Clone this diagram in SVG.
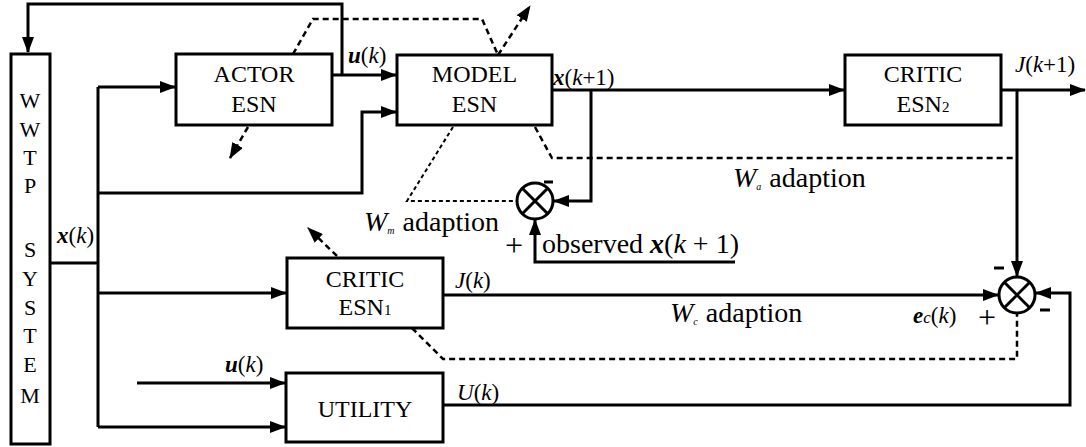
<svg xmlns="http://www.w3.org/2000/svg" width="1086" height="447" viewBox="0 0 1086 447">
<defs>
<marker id="ah" viewBox="0 0 16 12" refX="15" refY="6" markerWidth="16" markerHeight="12" markerUnits="userSpaceOnUse" orient="auto">
<path d="M0,0 L16,6 L0,12 z" fill="#000"/>
</marker>
<style>
.box{fill:#fff;stroke:#000;stroke-width:3}
.ln{fill:none;stroke:#000;stroke-width:3}
.pl{fill:none;stroke:#000;stroke-width:1.6}
.ds{fill:none;stroke:#000;stroke-width:2.5;stroke-dasharray:6 4}
.dt{fill:none;stroke:#000;stroke-width:2;stroke-dasharray:4 3}
text{font-family:'Liberation Serif','Times New Roman','DejaVu Serif','Noto Serif',serif}
.nl{font-size:24px;text-anchor:middle}
.m{font-size:23px}
.big{font-size:28px}
.i{font-style:italic}
.b{font-weight:bold;font-style:italic}
</style>
</defs>
<g id="connectors">
<polyline class="ln" points="342,75 342,4 28,4 28,52" marker-end="url(#ah)"/>
<line class="ln" x1="332" y1="75" x2="396" y2="75" marker-end="url(#ah)"/>
<line class="ln" x1="50" y1="263" x2="98" y2="263"/>
<line class="ln" x1="98" y1="87" x2="98" y2="427"/>
<line class="ln" x1="98" y1="87" x2="175" y2="87" marker-end="url(#ah)"/>
<polyline class="ln" points="98,193 362,193 362,112 396,112" marker-end="url(#ah)"/>
<line class="ln" x1="98" y1="293" x2="286" y2="293" marker-end="url(#ah)"/>
<line class="ln" x1="98" y1="427" x2="285" y2="427" marker-end="url(#ah)"/>
<line class="ln" x1="137" y1="383" x2="285" y2="383" marker-end="url(#ah)"/>
<line class="ln" x1="552" y1="90" x2="844" y2="90" marker-end="url(#ah)"/>
<line class="ln" x1="1001" y1="90" x2="1085" y2="90" marker-end="url(#ah)"/>
<polyline class="ln" points="1017,90 1017,276" marker-end="url(#ah)"/>
<polyline class="ln" points="591,90 591,201 554,201" marker-end="url(#ah)"/>
<polyline class="ln" points="735,262 535,262 535,220" marker-end="url(#ah)"/>
<line class="ln" x1="443" y1="295" x2="998" y2="295" marker-end="url(#ah)"/>
<polyline class="ln" points="443,405 1070,405 1070,293 1036,293" marker-end="url(#ah)"/>
<polyline class="ds" points="293,54 313,19 482,19 498,55"/>
<line class="ds" x1="498" y1="55" x2="530" y2="6" marker-end="url(#ah)"/>
<line class="ds" x1="248" y1="127" x2="230" y2="158" marker-end="url(#ah)"/>
<polyline class="dt" points="453,127 407,201 516,201"/>
<polyline class="ds" points="535,127 552,158 1017,158"/>
<line class="ds" x1="337" y1="256" x2="308" y2="228" marker-end="url(#ah)"/>
<polyline class="ds" points="412,328 443,359 1017,359 1017,313"/>
</g>
<g id="wwtp">
<rect class="box" x="11" y="54" width="39" height="390"/>
<g font-size="22" text-anchor="middle">
<text x="30" y="108">W</text><text x="30" y="137">W</text><text x="30" y="165">T</text><text x="30" y="193">P</text>
<text x="30" y="257">S</text><text x="30" y="286">Y</text><text x="30" y="315">S</text><text x="30" y="343">T</text><text x="30" y="372">E</text><text x="30" y="403">M</text>
</g>
</g>
<g id="actor">
<rect class="box" x="176" y="54" width="156" height="71"/>
<text class="nl" x="254" y="82">ACTOR</text>
<text class="nl" x="254" y="112">ESN</text>
</g>
<g id="model">
<rect class="box" x="397" y="55" width="155" height="70"/>
<text class="nl" x="474.5" y="82">MODEL</text>
<text class="nl" x="474.5" y="112">ESN</text>
</g>
<g id="critic2">
<rect class="box" x="845" y="55" width="156" height="70"/>
<text class="nl" x="923" y="82">CRITIC</text>
<text class="nl" x="923" y="112">ESN<tspan font-size="15">2</tspan></text>
</g>
<g id="critic1">
<rect class="box" x="287" y="258" width="156" height="70"/>
<text class="nl" x="365" y="287">CRITIC</text>
<text class="nl" x="365" y="315">ESN<tspan font-size="15">1</tspan></text>
</g>
<g id="utility">
<rect class="box" x="286" y="373" width="157" height="69"/>
<text class="nl" x="365" y="417">UTILITY</text>
</g>
<g id="sum1">
<circle class="ln" cx="535" cy="201" r="18"/>
<path class="ln" d="M522.3,188.3 L547.7,213.7 M547.7,188.3 L522.3,213.7"/>
</g>
<g id="sum2">
<circle class="ln" cx="1017" cy="295" r="18"/>
<path class="ln" d="M1004.3,282.3 L1029.7,307.7 M1029.7,282.3 L1004.3,307.7"/>
</g>
<g id="labels">
<text class="m" x="348" y="63"><tspan class="b">u</tspan>(<tspan class="i">k</tspan>)</text>
<text class="m" x="553" y="85"><tspan class="b">x</tspan>(<tspan class="i">k</tspan>+1)</text>
<text class="m" x="1015" y="72"><tspan class="i">J</tspan>(<tspan class="i">k</tspan>+1)</text>
<text class="m" x="57" y="243"><tspan class="b">x</tspan>(<tspan class="i">k</tspan>)</text>
<text class="m" x="455" y="288"><tspan class="i">J</tspan>(<tspan class="i">k</tspan>)</text>
<text class="m" x="457" y="400"><tspan class="i">U</tspan>(<tspan class="i">k</tspan>)</text>
<text class="m" x="225" y="372"><tspan class="b">u</tspan>(<tspan class="i">k</tspan>)</text>
<text class="m" x="913" y="323"><tspan class="b">e</tspan><tspan class="i" font-size="17">c</tspan>(<tspan class="i">k</tspan>)</text>
<text class="big" x="733" y="187"><tspan class="i">W</tspan><tspan class="i" font-size="10" dy="3">a</tspan><tspan dy="-3" dx="8">adaption</tspan></text>
<text class="big" x="364" y="231"><tspan class="i">W</tspan><tspan class="i" font-size="10" dy="3">m</tspan><tspan dy="-3" dx="8">adaption</tspan></text>
<text class="big" x="670" y="322"><tspan class="i">W</tspan><tspan class="i" font-size="10" dy="3">c</tspan><tspan dy="-3" dx="8">adaption</tspan></text>
<text class="big" x="542" y="253">observed <tspan class="b">x</tspan>(<tspan class="i">k</tspan> + 1)</text>
<text font-size="32" x="505" y="256">+</text>
<text font-size="32" x="978" y="328">+</text>
</g>
<g id="minus">
<line class="ln" x1="544" y1="182" x2="553" y2="182"/>
<line class="ln" x1="994" y1="268" x2="1004" y2="268"/>
<line class="ln" x1="1040" y1="310" x2="1050" y2="310"/>
</g>
</svg>
